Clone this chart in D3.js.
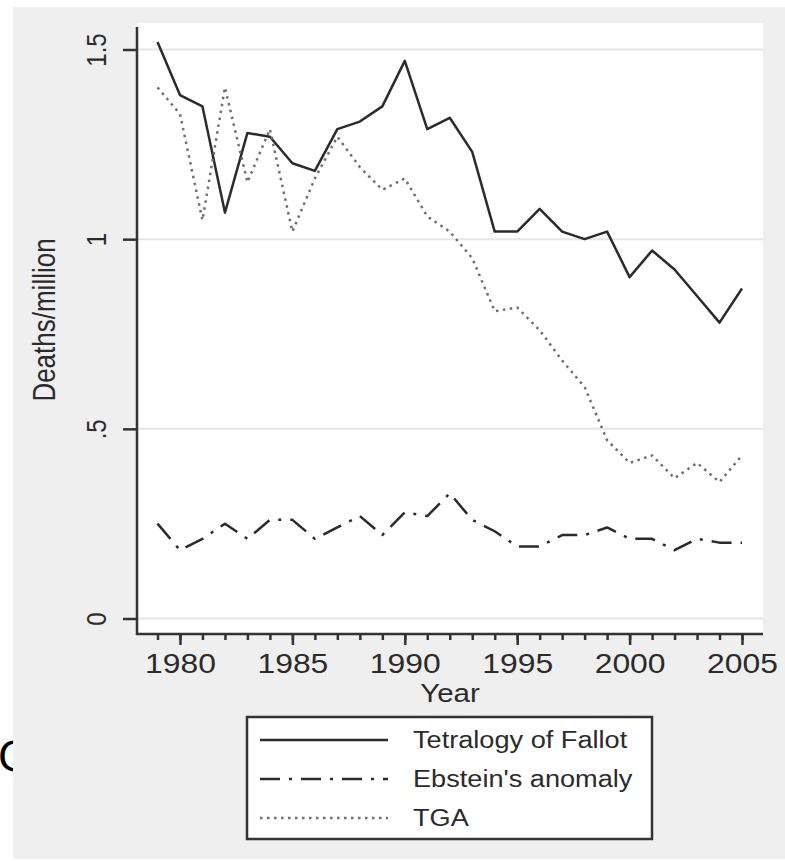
<!DOCTYPE html>
<html>
<head>
<meta charset="utf-8">
<script src="https://cdn.jsdelivr.net/npm/d3@7"></script>
<style>
  body { margin: 0; background: #fff; }
  svg { display: block; }
  text { font-family: "Liberation Sans", Arial, sans-serif; fill: #2b2b2b; }
</style>
</head>
<body>
<div class="graph"></div>
<script>
// data (deaths per million)
const years = [1979, 1980, 1981, 1982, 1983, 1984, 1985, 1986, 1987, 1988, 1989, 1990, 1991,
  1992, 1993, 1994, 1995, 1996, 1997, 1998, 1999, 2000, 2001, 2002, 2003, 2004, 2005];
const fallot = [1.52, 1.38, 1.35, 1.07, 1.28, 1.27, 1.20, 1.18, 1.29, 1.31, 1.35, 1.47, 1.29,
  1.32, 1.23, 1.02, 1.02, 1.08, 1.02, 1.00, 1.02, 0.90, 0.97, 0.92, 0.85, 0.78, 0.87];
const ebstein = [0.25, 0.18, 0.21, 0.25, 0.21, 0.26, 0.26, 0.21, 0.24, 0.27, 0.22, 0.28, 0.27,
  0.33, 0.26, 0.23, 0.19, 0.19, 0.22, 0.22, 0.24, 0.21, 0.21, 0.18, 0.21, 0.20, 0.20];
const tga = [1.40, 1.33, 1.05, 1.40, 1.15, 1.29, 1.02, 1.16, 1.27, 1.19, 1.13, 1.16, 1.06,
  1.02, 0.95, 0.81, 0.82, 0.76, 0.68, 0.61, 0.47, 0.41, 0.43, 0.37, 0.41, 0.36, 0.43];
const seriesNames = ["Tetralogy of Fallot", "Ebstein's anomaly", "TGA"];
const yTicks = [0, 0.5, 1, 1.5];
const yTickLabels = ["0", ".5", "1", "1.5"];
const xMajorTicks = [1980, 1985, 1990, 1995, 2000, 2005];

const W = 785, H = 862;
const plot = {left: 137, right: 763, top: 23, bottom: 634};
const stretch = 1.18; // the source picture is a bit wider than tall

const svg = d3.select(".graph").append("svg")
  .attr("width", W)
  .attr("height", H);

// stray letter from the neighbouring panel, half hidden
svg.append("text")
  .attr("x", -2).attr("y", 771)
  .style("font-family", "DejaVu Sans")
  .style("font-size", "41px")
  .style("fill", "#000")
  .text("C");

svg.append("rect")
  .attr("x", 13).attr("y", 7)
  .attr("width", W - 13).attr("height", 852)
  .attr("fill", "#efefef");

svg.append("rect")
  .attr("x", plot.left).attr("y", plot.top)
  .attr("width", plot.right - plot.left).attr("height", plot.bottom - plot.top)
  .attr("fill", "#fff");

const x = d3.scaleLinear().domain([1979, 2005]).range([157.5, 742]);
const y = d3.scaleLinear().domain([0, 1.5]).range([618.5, 49.5]);

function widen(sel){
  sel.each(function(){
    const len = this.getComputedTextLength();
    d3.select(this).attr("textLength", len * stretch).attr("lengthAdjust", "spacingAndGlyphs");
  });
}

// grid
svg.append("g").selectAll("line")
  .data(yTicks)
  .enter().append("line")
    .attr("x1", plot.left).attr("x2", plot.right)
    .attr("y1", d => y(d)).attr("y2", d => y(d))
    .attr("stroke", "#e6e6e6")
    .attr("stroke-width", 2);

// y axis
const yAxis = d3.axisLeft(y)
  .tickValues(yTicks)
  .tickFormat((d, i) => yTickLabels[i])
  .tickSize(14)
  .tickPadding(0);

const gy = svg.append("g")
  .attr("transform", "translate(" + plot.left + ",0)")
  .call(yAxis);
gy.select(".domain").remove();
gy.selectAll(".tick line").attr("stroke", "#333").attr("stroke-width", 2.5);
gy.selectAll(".tick text")
  .attr("x", null).attr("dy", null)
  .attr("text-anchor", "middle")
  .attr("transform", "translate(-31,0) scale(" + stretch + ",1) rotate(-90)")
  .style("font-size", "24px");

// x axis: minor ticks every year, longer ones every 5
const xMinor = d3.axisBottom(x).tickValues(years).tickSize(6).tickFormat("");
const xMajor = d3.axisBottom(x).tickValues(xMajorTicks).tickSize(11).tickFormat(d3.format("d"));

const gxMinor = svg.append("g")
  .attr("transform", "translate(0," + plot.bottom + ")")
  .call(xMinor);
const gx = svg.append("g")
  .attr("transform", "translate(0," + plot.bottom + ")")
  .call(xMajor);
gxMinor.select(".domain").remove();
gx.select(".domain").remove();
svg.selectAll(".tick line").attr("stroke", "#333").attr("stroke-width", 2.5);
gx.selectAll(".tick text")
  .attr("y", 39).attr("dy", null)
  .style("font-size", "27px")
  .call(widen);

// axis lines
svg.append("path")
  .attr("d", d3.line()([[plot.left, plot.top + 4], [plot.left, plot.bottom], [plot.right, plot.bottom]]))
  .attr("fill", "none")
  .attr("stroke", "#333")
  .attr("stroke-width", 2.5);

// axis titles
svg.append("text")
  .attr("transform", "translate(55,320) scale(" + stretch + ",1) rotate(-90)")
  .attr("text-anchor", "middle")
  .style("font-size", "26px")
  .text("Deaths/million");

svg.append("text")
  .attr("x", 450).attr("y", 702)
  .attr("text-anchor", "middle")
  .style("font-size", "25px")
  .text("Year")
  .call(widen);

// series
const styles = [
  {color: "#2b2b2b", dash: null},
  {color: "#2b2b2b", dash: "20,9,3,9"},
  {color: "#6f6f6f", dash: "2.5,4.5"}
];
const columns = [fallot, ebstein, tga].map((vals, i) => ({
  name: seriesNames[i],
  style: styles[i],
  values: years.map((yr, j) => ({x: yr, y: vals[j]}))
}));

const line = d3.line()
  .x(d => x(d.x))
  .y(d => y(d.y));

svg.append("g").selectAll("path")
  .data(columns)
  .enter().append("path")
    .attr("d", d => line(d.values))
    .attr("fill", "none")
    .attr("stroke", d => d.style.color)
    .attr("stroke-width", 2.5)
    .attr("stroke-linejoin", "round")
    .attr("stroke-dasharray", d => d.style.dash);

// legend
const legend = svg.append("g");
legend.append("rect")
  .attr("x", 247).attr("y", 717)
  .attr("width", 405).attr("height", 122)
  .attr("fill", "#fff")
  .attr("stroke", "#333")
  .attr("stroke-width", 2.5);

const rows = legend.selectAll("g.row")
  .data(columns)
  .enter().append("g")
    .attr("class", "row")
    .attr("transform", (d, i) => "translate(0," + (740 + i * 39) + ")");

rows.append("line")
  .attr("x1", 260).attr("x2", 388)
  .attr("stroke", d => d.style.color)
  .attr("stroke-width", 2.5)
  .attr("stroke-dasharray", d => d.style.dash);

rows.append("text")
  .attr("x", 413).attr("y", 8)
  .style("font-size", "23px")
  .text(d => d.name)
  .call(widen);
</script>
</body>
</html>
